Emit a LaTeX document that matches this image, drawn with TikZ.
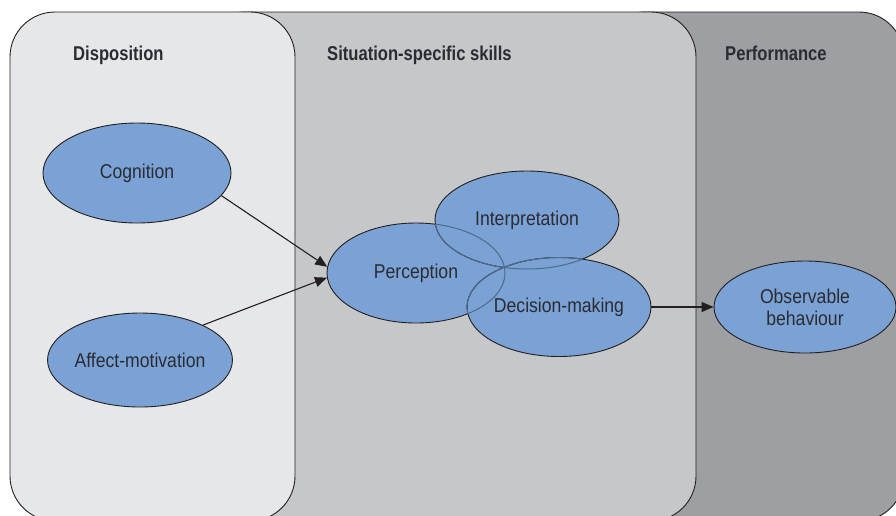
\documentclass[tikz,border=0pt]{standalone}
\usepackage{fontspec}
\setmainfont{Liberation Sans}[FakeStretch=0.88]
\newfontfamily\titlefont{Liberation Sans}[FakeStretch=0.83]
\usetikzlibrary{shapes.geometric,arrows.meta}
\definecolor{dispfill}{HTML}{E6E7E9}
\definecolor{sitfill}{HTML}{C6C7C9}
\definecolor{perffill}{HTML}{9E9FA3}
\definecolor{ellfill}{HTML}{7BA2D4}
\definecolor{ink}{HTML}{231F20}
\definecolor{faded}{HTML}{4E6A8C}
\definecolor{textc}{HTML}{2B2B33}
\begin{document}
\begin{tikzpicture}[x=1pt,y=-1pt,
 panel/.style={draw=ink,line width=0.9pt,rounded corners=45pt},
 title/.style={anchor=base west,font=\titlefont\bfseries\fontsize{20}{24}\selectfont,text=textc,inner sep=0pt},
 oval/.style={ellipse,draw=ink,line width=0.9pt,fill=ellfill,inner sep=0pt,text=textc,font=\fontsize{20}{22}\selectfont,align=center},
 arr/.style={-{Triangle[length=12pt,width=10pt]},draw=ink,line width=1.1pt},
 ghost/.style={draw=faded,line width=1pt}]
\useasboundingbox (0,0) rectangle (896,515);
\begin{scope}
\clip (0,0) rectangle (896,515);
\draw[panel,fill=perffill] (600,12) rectangle (904,521);
\draw[panel,fill=sitfill] (200,12) rectangle (696,521);
\draw[panel,fill=dispfill] (10,12) rectangle (295,521);
\end{scope}
\node[title] (t1) at (73,60) {Disposition};
\node[title] (t2) at (327,60) {Situation-specific skills};
\node[title] (t3) at (725,60) {Performance};
\node[oval,minimum width=188pt,minimum height=100pt] (cog) at (137,173) {Cognition};
\node[oval,minimum width=182pt,minimum height=94pt] (aff) at (140,360) {Affect-motivation};
\node[oval,minimum width=178pt,minimum height=100pt] (per) at (416,273) {Perception};
\node[oval,minimum width=184pt,minimum height=98pt] (int) at (527,220) {Interpretation};
\node[oval,minimum width=182pt,minimum height=99pt] (dec) at (559,307) {Decision-making};
\node[oval,minimum width=182pt,minimum height=92pt] (obs) at (805,307) {Observable\\behaviour};
\begin{scope}
\clip (per.center) ellipse [x radius=89pt,y radius=50pt];
\draw[ghost] (int.center) ellipse [x radius=92pt,y radius=49pt];
\draw[ghost] (dec.center) ellipse [x radius=92pt,y radius=49.5pt];
\end{scope}
\begin{scope}
\clip (int.center) ellipse [x radius=92pt,y radius=49pt];
\draw[ghost] (per.center) ellipse [x radius=89pt,y radius=50pt];
\draw[ghost] (dec.center) ellipse [x radius=92pt,y radius=49.5pt];
\end{scope}
\begin{scope}
\clip (dec.center) ellipse [x radius=92pt,y radius=49.5pt];
\draw[ghost] (per.center) ellipse [x radius=89pt,y radius=50pt];
\draw[ghost] (int.center) ellipse [x radius=92pt,y radius=49pt];
\end{scope}
\draw[arr] (cog.-15) -- (per.176);
\draw[arr] (aff.29) -- (per.183);
\draw[arr] (dec.east) -- (obs.west);
\end{tikzpicture}
\end{document}
